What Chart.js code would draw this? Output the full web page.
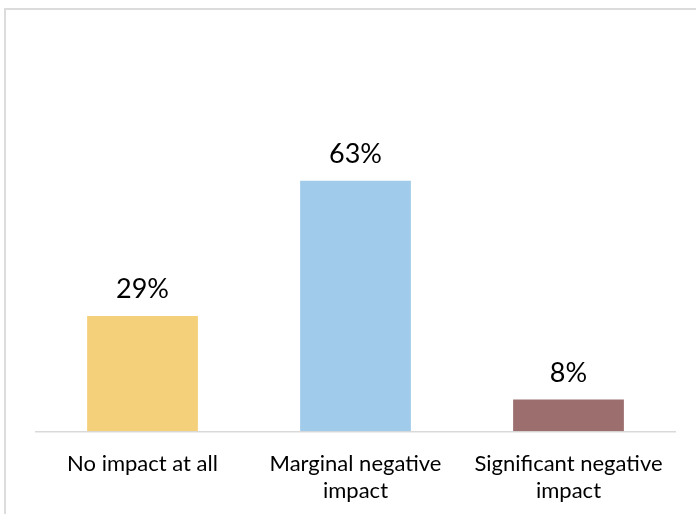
<!DOCTYPE html>
<html>
<head>
<meta charset="utf-8">
<script src="https://cdn.jsdelivr.net/npm/chart.js@4/dist/chart.umd.min.js"></script>
<style>
    html, body { margin: 0; padding: 0; background: #fff; overflow: hidden; }
    #frame {
        position: absolute; left: 4px; top: 8px;
        width: 800px; height: 600px;
        border: 2px solid #dcdcdc;
    }
    #wrap { position: absolute; left: 0; top: 0; width: 696px; height: 514px; overflow: hidden; }
</style>
</head>
<body>
<div id="frame"></div>
<div id="wrap"><canvas id="chart" width="696" height="534"></canvas></div>
<script>
const categories = [
    ['No impact at all'],
    ['Marginal negative', 'impact'],
    ['Significant negative', 'impact']
];
const shares = [29, 63, 8];
const barColors = ['#F5D07A', '#A0CBEA', '#9C6E6E'];

const labelFont = 'Lato, "Liberation Sans", sans-serif';

// percent labels above each bar
const valueLabels = {
    id: 'valueLabels',
    afterDatasetsDraw(chart){
        const ctx = chart.ctx;
        const meta = chart.getDatasetMeta(0);
        ctx.save();
        ctx.font = '27px ' + labelFont;
        ctx.fillStyle = '#000';
        ctx.textAlign = 'center';
        ctx.textBaseline = 'alphabetic';
        meta.data.forEach((bar, i) => {
            ctx.fillText(shares[i] + '%', bar.x, bar.y - 18);
        });
        ctx.restore();
    }
};

new Chart('chart', {
    type: 'bar',
    data: {
        labels: categories,
        datasets: [{
            data: shares,
            backgroundColor: barColors,
            borderWidth: 0,
            categoryPercentage: 1,
            barPercentage: 0.52
        }]
    },
    options: {
        responsive: false,
        animation: false,
        layout: {
            padding: { left: 36, right: 21, top: 153, bottom: 11 }
        },
        plugins: {
            legend: { display: false },
            tooltip: { enabled: false }
        },
        scales: {
            x: {
                grid: { display: false, drawTicks: false },
                border: { color: '#d9d9d9', width: 1.5 },
                ticks: {
                    color: '#000',
                    padding: 19,
                    maxRotation: 0,
                    autoSkip: false,
                    font: { family: labelFont, size: 22, lineHeight: 1.22 }
                }
            },
            y: {
                display: false,
                min: 0,
                max: 70
            }
        }
    },
    plugins: [valueLabels]
});
</script>
</body>
</html>
